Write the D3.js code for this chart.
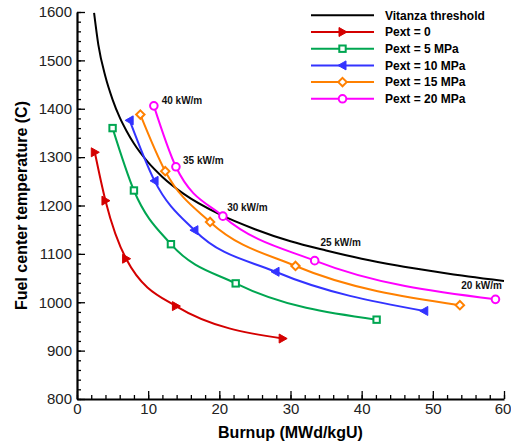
<!DOCTYPE html>
<html>
<head>
<meta charset="utf-8">
<script src="https://cdn.jsdelivr.net/npm/d3@7"></script>
<style>
body { margin: 0; background: #fff; }
text { font-family: "Liberation Sans", Arial, sans-serif; }
</style>
</head>
<body>
<div id="chart"></div>
<script>
// values
var seriesNames = ["Pext = 0", "Pext = 5 MPa", "Pext = 10 MPa", "Pext = 15 MPa", "Pext = 20 MPa"];
var seriesColors = ["#d40000", "#00a651", "#3333ff", "#ff8000", "#ff00ff"];
var seriesMarkers = ["triRight", "square", "triLeft", "diamond", "circle"];

var burnup0 = [2.5, 4.0, 6.9, 13.9, 28.9];
var temp0 = [1310, 1210, 1090, 992, 925];
var burnup5 = [5.0, 8.0, 13.2, 22.3, 42.1];
var temp5 = [1360, 1231, 1120, 1039, 964];
var burnup10 = [7.4, 10.9, 16.5, 27.9, 48.8];
var temp10 = [1376, 1251, 1149, 1063, 982];
var burnup15 = [8.9, 12.4, 18.7, 30.7, 53.8];
var temp15 = [1388, 1271, 1166, 1075, 994];
var burnup20 = [10.8, 13.9, 20.5, 33.4, 58.8];
var temp20 = [1406, 1280, 1178, 1086, 1006];

var vitanzaBurnup = [2.4, 3, 4, 5, 6, 7, 8, 10, 12, 15, 20, 25, 30, 35, 40, 45, 50, 55, 60];
var vitanzaTemp = [1598, 1532, 1466, 1419, 1382, 1353, 1328, 1289, 1259, 1224, 1182, 1151, 1126, 1107, 1090, 1076, 1064, 1053, 1044];

var powerLabels = ["40 kW/m", "35 kW/m", "30 kW/m", "25 kW/m", "20 kW/m"];
var powerLabelBurnup = [11.9, 14.9, 21.1, 34.2, 54.0];
var powerLabelTemp = [1417, 1293, 1196, 1123, 1034];

var xTicks = [0, 10, 20, 30, 40, 50, 60];
var yTicks = [800, 900, 1000, 1100, 1200, 1300, 1400, 1500, 1600];

var burnups = [burnup0, burnup5, burnup10, burnup15, burnup20];
var temps = [temp0, temp5, temp10, temp15, temp20];

var W = 511, H = 444;
var margin = {top: 12, right: 7, bottom: 45, left: 77};
var width = W - margin.left - margin.right,
    height = H - margin.top - margin.bottom;

var svg = d3.select("#chart").append("svg")
    .attr("width", W)
    .attr("height", H);

var g = svg.append("g")
    .attr("transform", "translate(" + margin.left + "," + margin.top + ")");

var x = d3.scaleLinear().domain([0, 60]).range([0, width]);
var y = d3.scaleLinear().domain([800, 1600]).range([height, 0]);

// minor ticks
g.append("g")
    .attr("transform", "translate(0," + height + ")")
    .call(d3.axisBottom(x).tickValues(d3.range(0, 61, 2)).tickSize(-4).tickSizeOuter(0).tickFormat(""))
    .call(function(a) { a.select(".domain").remove(); });
g.append("g")
    .call(d3.axisLeft(y).tickValues(d3.range(800, 1601, 20)).tickSize(-4).tickSizeOuter(0).tickFormat(""))
    .call(function(a) { a.select(".domain").remove(); });

// major ticks
var xAxis = g.append("g")
    .attr("transform", "translate(0," + height + ")")
    .call(d3.axisBottom(x).tickValues(xTicks).tickSize(-8).tickSizeOuter(0).tickPadding(4).tickFormat(d3.format("d")));
var yAxis = g.append("g")
    .call(d3.axisLeft(y).tickValues(yTicks).tickSize(-8).tickSizeOuter(0).tickPadding(5).tickFormat(d3.format("d")));

g.selectAll(".tick line").attr("stroke", "#000").attr("stroke-width", 1.3);
g.selectAll(".domain").attr("stroke", "#000").attr("stroke-width", 2.2);
g.selectAll(".tick text")
    .attr("font-family", "'Liberation Sans', Arial, sans-serif")
    .attr("font-size", 15)
    .attr("fill", "#222");
// keep the last x label inside the window
xAxis.selectAll(".tick text").filter(function(d) { return d == 60; }).attr("dx", "-1.5");

// axis titles
svg.append("text")
    .attr("x", margin.left + width / 2)
    .attr("y", 438)
    .attr("text-anchor", "middle")
    .attr("font-size", 16)
    .attr("font-weight", "bold")
    .text("Burnup (MWd/kgU)");

svg.append("text")
    .attr("transform", "translate(27," + (margin.top + height / 2) + ")rotate(-90)")
    .attr("text-anchor", "middle")
    .attr("font-size", 16)
    .attr("font-weight", "bold")
    .text("Fuel center temperature (C)");

var line = d3.line()
    .x(function(d) { return x(d[0]); })
    .y(function(d) { return y(d[1]); })
    .curve(d3.curveMonotoneX);

// Vitanza threshold
g.append("path")
    .datum(d3.zip(vitanzaBurnup, vitanzaTemp))
    .attr("d", line)
    .attr("fill", "none")
    .attr("stroke", "#000")
    .attr("stroke-width", 2);

function drawMarker(sel, type, color) {
    if (type == "circle") {
        sel.append("circle").attr("r", 3.8)
            .attr("fill", "#fff").attr("stroke", color).attr("stroke-width", 2);
    } else if (type == "square") {
        sel.append("rect").attr("x", -3.2).attr("y", -3.2).attr("width", 6.4).attr("height", 6.4)
            .attr("fill", "#fff").attr("stroke", color).attr("stroke-width", 2);
    } else if (type == "diamond") {
        sel.append("path").attr("d", "M0,-4.2L4.2,0L0,4.2L-4.2,0Z")
            .attr("fill", "#fff").attr("stroke", color).attr("stroke-width", 2);
    } else if (type == "triRight") {
        sel.append("path").attr("d", "M4.5,0L-3.5,-4.5L-3.5,4.5Z")
            .attr("fill", color).attr("stroke", color).attr("stroke-width", 1);
    } else if (type == "triLeft") {
        sel.append("path").attr("d", "M-4.5,0L3.5,-4.5L3.5,4.5Z")
            .attr("fill", color).attr("stroke", color).attr("stroke-width", 1);
    }
}

seriesNames.forEach(function(name, i) {
    var pts = d3.zip(burnups[i], temps[i]);
    g.append("path")
        .datum(pts)
        .attr("d", line)
        .attr("fill", "none")
        .attr("stroke", seriesColors[i])
        .attr("stroke-width", 2);

    g.selectAll(".m" + i)
        .data(pts)
        .enter()
        .append("g")
        .attr("class", "m" + i)
        .attr("transform", function(d) { return "translate(" + x(d[0]) + "," + y(d[1]) + ")"; })
        .each(function() { drawMarker(d3.select(this), seriesMarkers[i], seriesColors[i]); });
});

// linear power labels
g.selectAll(".plabel")
    .data(powerLabels)
    .enter()
    .append("text")
    .attr("class", "plabel")
    .attr("x", function(d, i) { return x(powerLabelBurnup[i]); })
    .attr("y", function(d, i) { return y(powerLabelTemp[i]); })
    .attr("dy", "0.35em")
    .attr("font-size", 10)
    .attr("font-weight", "bold")
    .attr("fill", "#111")
    .text(function(d) { return d; });

// legend
var legendNames = ["Vitanza threshold"].concat(seriesNames);
var legendColors = ["#000"].concat(seriesColors);
var legendMarkers = [null].concat(seriesMarkers);

var legend = svg.append("g");
legendNames.forEach(function(name, i) {
    var row = legend.append("g").attr("transform", "translate(311," + (15.3 + i * 16.7) + ")");
    row.append("line")
        .attr("x1", 0).attr("x2", 63)
        .attr("stroke", legendColors[i])
        .attr("stroke-width", 2);
    if (legendMarkers[i]) {
        drawMarker(row.append("g").attr("transform", "translate(31.5,0)"), legendMarkers[i], legendColors[i]);
    }
    row.append("text")
        .attr("x", 74)
        .attr("dy", "0.35em")
        .attr("font-size", 12)
        .attr("font-weight", "bold")
        .text(name);
});
</script>
</body>
</html>
